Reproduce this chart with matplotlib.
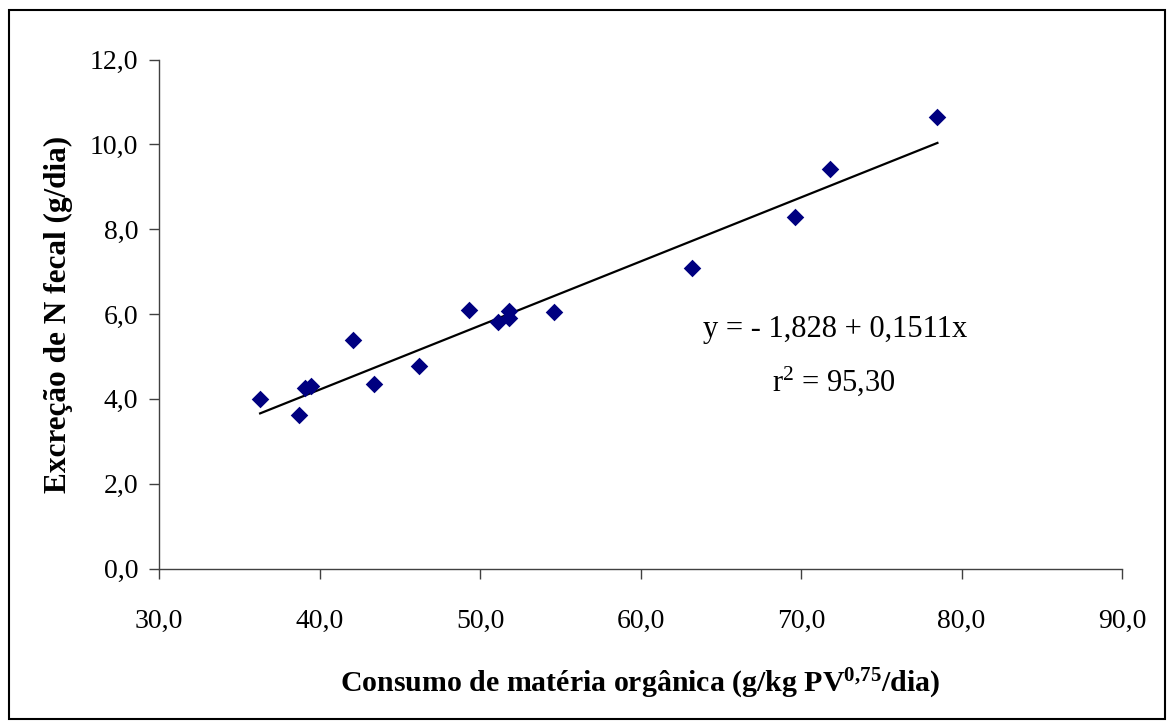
import numpy as np
import matplotlib.pyplot as plt
from matplotlib.patches import Rectangle
from matplotlib.ticker import FuncFormatter

plt.rcParams["font.family"] = ["Liberation Serif", "DejaVu Serif"]
plt.rcParams["mathtext.fontset"] = "custom"
plt.rcParams["mathtext.rm"] = "Liberation Serif"
plt.rcParams["mathtext.it"] = "Liberation Serif:italic"
plt.rcParams["mathtext.bf"] = "Liberation Serif:bold"

# consumo de MO (g/kg PV^0,75/dia) x excreção de N fecal (g/dia)
consumo = [36.3, 38.7, 39.1, 39.5, 42.1, 43.4, 46.2, 49.3, 51.1, 51.8, 51.8,
           54.6, 63.2, 69.6, 71.8, 78.5]
n_fecal = [3.99, 3.61, 4.26, 4.30, 5.39, 4.36, 4.78, 6.09, 5.80, 5.91, 6.06,
           6.05, 7.08, 8.29, 9.42, 10.64]

# equação ajustada
intercepto = -1.828
inclinacao = 0.1511
r2 = 95.30

fig = plt.figure(figsize=(11.67, 7.26), dpi=100)
ax = fig.add_axes([159 / 1167, 1 - 568.5 / 726, 963 / 1167, 509 / 726])

ax.scatter(consumo, n_fecal, marker="D", s=80, color="#000080", zorder=3,
           linewidths=0)

xl = np.array([min(consumo), max(consumo)])
ax.plot(xl, intercepto + inclinacao * xl, color="black", lw=1.6, zorder=2)

ax.set_xlim(30, 90)
ax.set_ylim(0, 12)
ax.set_xticks(np.arange(30, 91, 10))
ax.set_yticks(np.arange(0, 12.1, 2))
virgula = FuncFormatter(lambda v, p: f"{v:.1f}".replace(".", ","))
ax.xaxis.set_major_formatter(virgula)
ax.yaxis.set_major_formatter(virgula)
ax.tick_params(direction="out", length=7, width=1, color="#404040",
               labelsize=20, pad=8)
ax.tick_params(axis="x", pad=22)
for s in ["top", "right"]:
    ax.spines[s].set_visible(False)
for s in ["left", "bottom"]:
    ax.spines[s].set_color("#404040")
    ax.spines[s].set_linewidth(1)

ax.set_xlabel(r"Consumo de matéria orgânica (g/kg PV$^{\mathbf{0{,}75}}$/dia)",
              fontsize=21.5, fontweight="bold", labelpad=24)
ax.set_ylabel("Excreção de N fecal (g/dia)", fontsize=22.5, fontweight="bold",
              labelpad=12)

eq = f"y = - {abs(intercepto):.3f} + {inclinacao:.4f}x".replace(".", ",")
ax.text(835 / 1167, 1 - 329 / 726, eq, transform=fig.transFigure,
        ha="center", va="center", fontsize=22)
ax.text(834 / 1167, 1 - 381 / 726,
        r"r$^2$ = " + f"{r2:.2f}".replace(".", ","),
        transform=fig.transFigure, ha="center", va="center", fontsize=22)

# moldura externa
fig.patches.append(Rectangle((9 / 1167, 1 - 719 / 726), 1156 / 1167, 709 / 726,
                             transform=fig.transFigure, fill=False,
                             edgecolor="black", lw=1.5))

fig.savefig("out.png", dpi=100, facecolor="white")
